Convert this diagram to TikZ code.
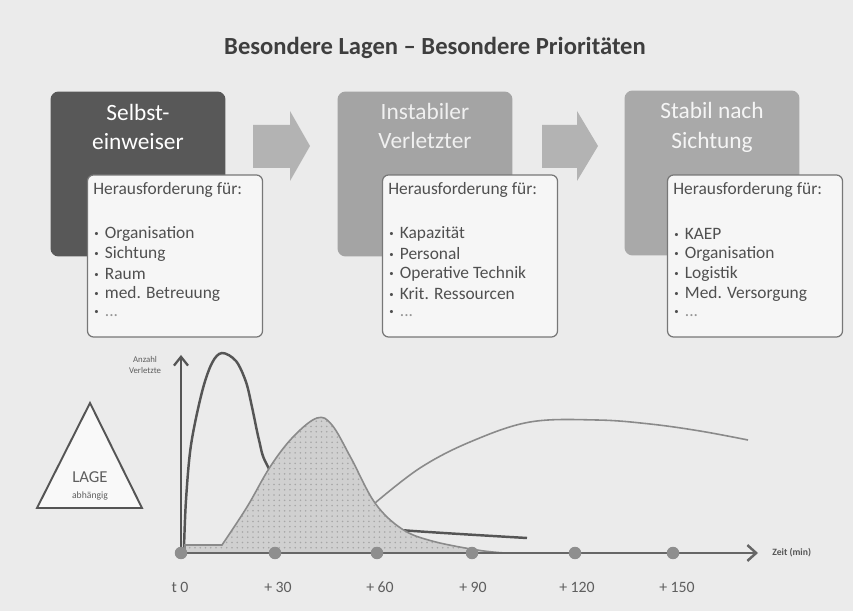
\documentclass[tikz,border=0pt]{standalone}
\usepackage{fontspec}
\setmainfont{Carlito}
\usetikzlibrary{arrows.meta,patterns}

\definecolor{bg}{HTML}{EBEBEB}
\definecolor{titlegray}{HTML}{3E3E3E}
\definecolor{darkfill}{HTML}{585858}
\definecolor{midfill}{HTML}{A4A4A4}
\definecolor{lightfill}{HTML}{A9A9A9}
\definecolor{arrowgray}{HTML}{B3B3B3}
\definecolor{infofill}{HTML}{F6F6F6}
\definecolor{infoline}{HTML}{777777}
\definecolor{infotext}{HTML}{505050}
\definecolor{curvedark}{HTML}{555555}
\definecolor{curvemid}{HTML}{8A8A8A}
\definecolor{hillfill}{HTML}{D0D0D0}
\definecolor{axisgray}{HTML}{7A7A7A}
\definecolor{dotgray}{HTML}{8E8E8E}
\definecolor{labelgray}{HTML}{5E5E5E}

\tikzset{
  stagebox/.style={rounded corners=0.16cm, minimum width=3.5cm, minimum height=3.3cm, inner sep=0},
  stagetitle/.style={font=\fontsize{13.3}{17}\selectfont, align=center, inner sep=0},
  infobox/.style={draw=infoline, fill=infofill, line width=0.7pt, rounded corners=0.12cm,
                  minimum width=3.5cm, minimum height=3.24cm, inner sep=0},
  infoline/.style={font=\fontsize{9.9}{11}\selectfont, text=infotext, anchor=west, inner sep=0},
  blockarrow/.style={fill=arrowgray},
  tickdot/.style={circle, fill=dotgray, minimum size=0.25cm, inner sep=0},
  ticklabel/.style={font=\fontsize{9}{10}\selectfont, text=labelgray, inner sep=0},
  axisline/.style={draw=axisgray, line width=1.2pt},
  yaxisline/.style={draw=curvedark, line width=1.3pt},
  firstcurve/.style={draw=curvedark, line width=1.4pt},
  hill/.style={draw=curvemid, line width=0.9pt, preaction={fill=hillfill},
               pattern=dots, pattern color=gray!70},
  thirdcurve/.style={draw=curvemid, line width=0.9pt},
}

\newcommand{\itm}[1]{\raisebox{1.2pt}{\fontsize{5}{5}\selectfont\textbullet}\hspace{3.5pt}#1}

\begin{document}
\begin{tikzpicture}[x=0.02cm, y=-0.02cm]
\useasboundingbox (0,0) rectangle (853,611);
\fill[bg] (0,0) rectangle (853,611);

% heading
\node[font=\bfseries\fontsize{14}{16}\selectfont, text=titlegray] (title) at (435,48)
  {Besondere Lagen – Besondere Prioritäten};

% three stage boxes
\node[stagebox, fill=darkfill]  (s1) at (138,174) {};
\node[stagebox, fill=midfill]   (s2) at (425,174) {};
\node[stagebox, fill=lightfill] (s3) at (712,173) {};

\node[stagetitle, text=white]        (s1t) at (138,127) {Selbst-\\einweiser};
\node[stagetitle, text=white!88!gray] (s2t) at (425,126) {Instabiler\\Verletzter};
\node[stagetitle, text=white!92!gray] (s3t) at (712,127) {Stabil nach\\Sichtung};

% block arrows between the stages
\fill[blockarrow] (253,125) -- (290,125) -- (290,111) -- (310,146) -- (290,181)
  -- (290,168) -- (253,168) -- cycle;
\fill[blockarrow] (542,125) -- (577,125) -- (577,111) -- (598,146) -- (577,181)
  -- (577,168) -- (542,168) -- cycle;

% challenge boxes
\node[infobox] (c1) at (175,256) {};
\node[infobox] (c2) at (470,256) {};
\node[infobox] (c3) at (755,256) {};

\node[infoline] (c1h) at (93,190) {Herausforderung für:};
\node[infoline] (c1a) at (94,234) {\itm{Organisation}};
\node[infoline] (c1b) at (94,254) {\itm{Sichtung}};
\node[infoline] (c1c) at (94,274) {\itm{Raum}};
\node[infoline] (c1d) at (94,294) {\itm{med. Betreuung}};
\node[infoline] (c1e) at (94,314) {\itm{\textcolor{infotext!60}{...}}};

\node[infoline] (c2h) at (388,190) {Herausforderung für:};
\node[infoline] (c2a) at (389,234) {\itm{Kapazität}};
\node[infoline] (c2b) at (389,254) {\itm{Personal}};
\node[infoline] (c2c) at (389,274) {\itm{Operative Technik}};
\node[infoline] (c2d) at (389,294) {\itm{Krit. Ressourcen}};
\node[infoline] (c2e) at (389,314) {\itm{\textcolor{infotext!60}{...}}};

\node[infoline] (c3h) at (673,190) {Herausforderung für:};
\node[infoline] (c3a) at (674,234) {\itm{KAEP}};
\node[infoline] (c3b) at (674,254) {\itm{Organisation}};
\node[infoline] (c3c) at (674,274) {\itm{Logistik}};
\node[infoline] (c3d) at (674,294) {\itm{Med. Versorgung}};
\node[infoline] (c3e) at (674,314) {\itm{\textcolor{infotext!60}{...}}};

% situation triangle
\draw[draw=curvedark, fill=white!70!bg, line width=1.1pt, line join=miter]
  (90,403) -- (142,508) -- (37,508) -- cycle;
\node[font=\fontsize{9.5}{10}\selectfont, text=labelgray, inner sep=0] (lage) at (90,477) {LAGE};
\node[font=\fontsize{5.5}{6}\selectfont, text=labelgray, inner sep=0] (abh) at (90,496) {abhängig};

% chart: casualty curves
\coordinate (o) at (181,553);
\coordinate (xend) at (758,553);
\coordinate (ytop) at (181,355);

\draw[firstcurve] plot[smooth, tension=0.55] coordinates {(184,548) (186,500) (191,445)
  (202,392) (212,363) (222,353) (236,361) (246,382) (252,407) (259,440) (266,463)
  (290,500) (330,522) (400,530) (527,538)};

\path[hill] (185,545) -- (222,545) -- plot[smooth, tension=0.6] coordinates {(222,545)
  (247,507) (270,467) (293,437) (317,418) (332,425) (351,458) (375,503) (402,529)
  (432,541) (477,550) (505,553)} -- (185,553) -- cycle;

\draw[thirdcurve] plot[smooth, tension=0.6] coordinates {(375,503) (420,468) (470,442)
  (530,422) (597,420) (650,424) (700,431) (748,440)};

% axes
\draw[axisline, -{Straight Barb[length=5pt, width=9pt, line width=1.4pt]}, draw=curvedark!90] (o) -- (xend);
\draw[yaxisline, -{Straight Barb[length=5pt, width=8pt, line width=1.3pt]}] (o) -- (ytop);

\node[font=\fontsize{5}{6}\selectfont, text=labelgray, align=center, inner sep=0] (yl)
  at (145,365) {Anzahl\\Verletzte};
\node[font=\bfseries\fontsize{5.5}{6}\selectfont, text=curvedark, anchor=west, inner sep=0] (xl)
  at (772,553) {Zeit (min)};

% time marks
\node[tickdot] (t0)   at (181,553) {};
\node[tickdot] (t30)  at (275,553) {};
\node[tickdot] (t60)  at (377,553) {};
\node[tickdot] (t90)  at (472,553) {};
\node[tickdot] (t120) at (575,553) {};
\node[tickdot] (t150) at (673,553) {};

\node[ticklabel] (l0)   at (180,587) {t 0};
\node[ticklabel] (l30)  at (278,587) {+ 30};
\node[ticklabel] (l60)  at (380,587) {+ 60};
\node[ticklabel] (l90)  at (473,587) {+ 90};
\node[ticklabel] (l120) at (577,587) {+ 120};
\node[ticklabel] (l150) at (677,587) {+ 150};
\end{tikzpicture}
\end{document}
